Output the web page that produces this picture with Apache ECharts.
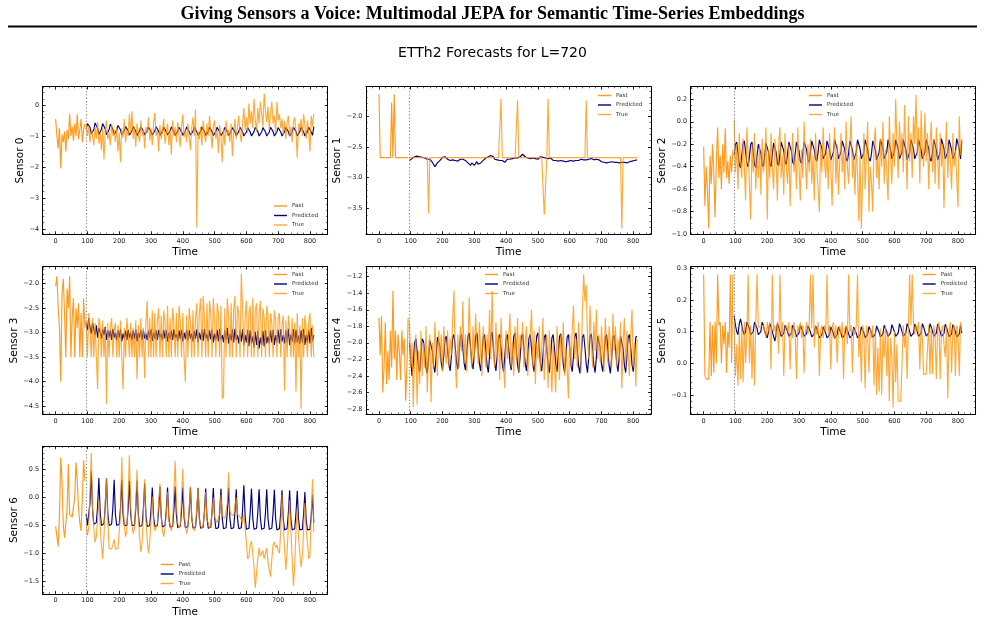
<!DOCTYPE html>
<html><head><meta charset="utf-8">
<script src="https://cdn.jsdelivr.net/npm/echarts@6/dist/echarts.min.js"></script>
<style>html,body{margin:0;padding:0;background:#fff}#c{width:985px;height:621px}</style>
</head><body><div id="c"></div>
<script>
// ================= DATA =================
const STEP = 4;            // sampling step of every series (time units)
const FUTURE_START = 96;   // first forecast time index
const X_TICKS = [0,100,200,300,400,500,600,700,800];
const SENSOR_NAMES = ['Sensor 0','Sensor 1','Sensor 2','Sensor 3','Sensor 4','Sensor 5','Sensor 6'];

const s0YTicks = [-4,-3,-2,-1,0];
const s1YTicks = [-3.5,-3.0,-2.5,-2.0];
const s2YTicks = [-1.0,-0.8,-0.6,-0.4,-0.2,0.0,0.2];
const s3YTicks = [-4.5,-4.0,-3.5,-3.0,-2.5,-2.0];
const s4YTicks = [-2.8,-2.6,-2.4,-2.2,-2.0,-1.8,-1.6,-1.4,-1.2];
const s5YTicks = [-0.1,0.0,0.1,0.2,0.3];
const s6YTicks = [-1.5,-1.0,-0.5,0.0,0.5];

const s0Past = [-0.45,-1.0,-1.4,-0.75,-2.05,-0.95,-1.2,-0.85,-1.5,-0.8,-1.1,-0.28,-1.0,-0.7,-1.15,-0.6,-1.0,-0.3,-1.1,-0.8,-0.45,-1.2,-0.8,-0.6];
const s0Pred = [
-0.78,-0.6,-0.55,-0.72,-0.93,-0.95, -0.8,-0.58,-0.55,-0.75,-0.95,-0.92, -0.78,-0.6,-0.58,-0.78,-0.96,-0.94,
-0.8,-0.62,-0.6,-0.78,-0.95,-0.93, -0.82,-0.66,-0.65,-0.8,-0.97,-0.95, -0.83,-0.7,-0.7,-0.83,-0.97,-0.95,
-0.84,-0.7,-0.72,-0.85,-0.98,-0.95, -0.83,-0.7,-0.7,-0.84,-0.97,-0.94, -0.84,-0.72,-0.72,-0.85,-0.97,-0.95,
-0.83,-0.7,-0.71,-0.85,-0.98,-0.96, -0.85,-0.72,-0.72,-0.86,-0.97,-0.95, -0.84,-0.71,-0.72,-0.85,-0.98,-0.96,
-0.85,-0.72,-0.73,-0.86,-0.98,-0.96, -0.84,-0.71,-0.72,-0.86,-0.97,-0.95, -0.85,-0.72,-0.72,-0.86,-0.98,-0.96,
-0.85,-0.71,-0.71,-0.85,-0.98,-0.96, -0.86,-0.72,-0.72,-0.86,-0.99,-0.97, -0.85,-0.72,-0.73,-0.87,-0.99,-0.96,
-0.86,-0.72,-0.72,-0.86,-0.98,-0.97, -0.86,-0.73,-0.73,-0.87,-0.99,-0.97, -0.86,-0.72,-0.72,-0.87,-1.0,-0.97,
-0.87,-0.73,-0.72,-0.87,-1.0,-0.98, -0.86,-0.72,-0.71,-0.86,-1.0,-0.98, -0.87,-0.73,-0.72,-0.87,-1.0,-0.98,
-0.87,-0.72,-0.71,-0.86,-1.0,-0.98, -0.87,-0.73,-0.72,-0.87,-1.0,-0.98, -0.86,-0.72,-0.71,-0.86,-1.0,-0.97,
-0.87,-0.72,-0.71,-0.86,-1.0,-0.98, -0.86,-0.72,-0.72,-0.87,-1.0,-0.97, -0.86,-0.72,-0.72,-0.87,-0.98,-0.7];
const s0True = [
-0.6,-1.0,-0.7,-1.2,-0.8,-0.95, -1.3,-0.7,-1.1,-0.55,-1.25,-0.9, -1.45,-0.75,-1.75,-0.85,-0.5,-1.1,
-0.9,-1.3,-0.6,-1.0,-0.8,-1.2, -0.7,-1.5,-0.9,-1.85,-0.75,-1.05, -0.45,-1.2,-0.8,-1.0,-0.3,-0.9,
-0.2,-1.1,-0.7,-1.35,-0.6,-0.95, -1.2,-0.5,-1.0,-0.8,-1.4,-0.7, -0.9,-0.4,-1.15,-0.75,-1.3,-0.6,
-0.25,-1.0,-0.8,-1.5,-0.65,-1.1, -0.85,-0.45,-1.25,-0.9,-0.6,-1.3, -0.8,-1.6,-0.5,-1.0,-0.7,-1.2,
-0.55,-0.95,-1.35,-0.7,-0.3,-1.05, -0.8,-1.2,-0.6,-1.0,-1.45,-0.75, -0.4,-1.0,-0.15,-3.95,-0.85,-1.1,
-0.7,-1.3,-0.5,-0.95,-1.2,-0.6, -1.0,-0.35,-0.9,-1.4,-0.7,-0.5, -1.1,-0.8,-1.55,-0.65,-1.0,-1.85,
-0.75,-1.3,-0.5,-1.0,-0.8,-1.2, -0.6,-1.65,-0.9,-0.45,-1.1,-0.7, -0.35,-0.9,-1.2,-0.6,-0.1,-0.8,
-0.4,-0.9,0.05,-0.6,-0.2,-0.75, 0.2,-0.5,-0.85,-0.1,-0.6,0.1, -0.3,-0.7,0.37,-0.2,-0.55,-0.05,
-0.8,-0.25,0.1,-0.6,-0.35,-0.9, 0.1,-0.5,-0.3,-0.75,-0.45,-0.95, -0.5,-1.1,-0.6,-0.35,-1.0,-0.7,
-1.2,-0.55,-0.4,-0.9,-1.7,-0.6, -0.8,-0.45,-1.0,-0.3,-0.65,-1.1, -0.5,-0.9,-1.5,-0.35,-0.7,-0.3];

const s1Past = [-1.65,-2.675,-2.675,-2.675,-2.675,-2.675,-2.675,-2.675,-2.675,-2.675,-1.78,-2.675,-1.65,-2.675,-2.675,-2.675,-2.675,-2.675,-2.675,-2.675,-2.675,-2.675,-2.675,-2.675];
const s1Pred = [
-2.72,-2.71,-2.69,-2.68,-2.66,-2.67, -2.65,-2.68,-2.66,-2.69,-2.67,-2.65, -2.68,-2.66,-2.7,-2.68,-2.7,-2.72,
-2.75,-2.78,-2.82,-2.8,-2.76,-2.74, -2.72,-2.7,-2.67,-2.65,-2.66,-2.68, -2.7,-2.69,-2.72,-2.7,-2.71,-2.69,
-2.72,-2.7,-2.73,-2.71,-2.7,-2.72, -2.7,-2.73,-2.72,-2.74,-2.76,-2.78, -2.8,-2.76,-2.79,-2.8,-2.77,-2.74,
-2.78,-2.8,-2.76,-2.74,-2.72,-2.7, -2.68,-2.7,-2.66,-2.65,-2.64,-2.62, -2.66,-2.7,-2.72,-2.71,-2.73,-2.72,
-2.74,-2.72,-2.73,-2.75,-2.72,-2.7, -2.72,-2.7,-2.71,-2.69,-2.7,-2.68, -2.7,-2.68,-2.69,-2.66,-2.64,-2.62,
-2.63,-2.66,-2.65,-2.68,-2.67,-2.69, -2.67,-2.68,-2.66,-2.69,-2.68,-2.7, -2.68,-2.66,-2.69,-2.67,-2.7,-2.68,
-2.7,-2.69,-2.71,-2.68,-2.7,-2.72, -2.7,-2.72,-2.71,-2.73,-2.7,-2.72, -2.71,-2.73,-2.72,-2.74,-2.72,-2.73,
-2.71,-2.72,-2.7,-2.73,-2.71,-2.72, -2.7,-2.72,-2.71,-2.7,-2.72,-2.71, -2.73,-2.71,-2.72,-2.7,-2.71,-2.69,
-2.7,-2.71,-2.69,-2.7,-2.72,-2.71, -2.73,-2.74,-2.72,-2.75,-2.74,-2.76, -2.74,-2.75,-2.77,-2.74,-2.76,-2.75,
-2.73,-2.75,-2.74,-2.76,-2.74,-2.75, -2.77,-2.75,-2.74,-2.76,-2.73,-2.74, -2.75,-2.73,-2.74,-2.72,-2.73,-2.71];
const s1True = [
-2.675,-2.675,-2.675,-2.675,-2.675,-2.675, -2.675,-2.675,-2.675,-2.675,-2.675,-2.675, -2.675,-2.675,-2.675,-3.58,-2.675,-2.675,
-2.675,-2.675,-2.675,-2.675,-2.675,-2.675, -2.675,-2.675,-2.675,-2.675,-2.675,-2.675, -2.675,-2.675,-2.675,-2.675,-2.675,-2.675,
-2.675,-2.675,-2.675,-2.675,-2.675,-2.675, -2.675,-2.675,-2.675,-2.675,-2.675,-2.675, -2.675,-2.675,-2.675,-2.675,-2.675,-2.675,
-2.675,-2.675,-2.675,-2.675,-2.675,-2.675, -2.675,-2.675,-2.675,-2.675,-2.675,-2.675, -2.675,-2.675,-2.675,-2.675,-2.675,-2.675,
-1.72,-2.675,-2.675,-2.675,-2.675,-2.675, -2.675,-2.675,-2.675,-2.675,-2.675,-2.675, -2.675,-1.75,-2.675,-2.675,-2.675,-2.675,
-2.675,-2.675,-2.675,-2.675,-2.675,-2.675, -2.675,-2.675,-2.675,-2.675,-2.675,-2.675, -2.675,-2.675,-2.675,-2.675,-3.6,-3.57,
-2.675,-1.72,-2.675,-2.675,-2.675,-2.675, -2.675,-2.675,-2.675,-2.675,-2.675,-2.675, -2.675,-2.675,-2.675,-2.675,-2.675,-2.675,
-2.675,-2.675,-2.675,-2.675,-2.675,-2.675, -2.675,-2.675,-2.675,-2.675,-2.675,-2.675, -2.675,-1.75,-2.675,-2.675,-2.675,-2.675,
-2.675,-2.675,-2.675,-2.675,-2.675,-2.675, -2.675,-2.675,-2.675,-2.675,-2.675,-2.675, -2.675,-2.675,-2.675,-2.675,-2.675,-2.675,
-2.675,-2.675,-2.675,-2.675,-2.675,-3.82, -2.675,-2.675,-2.675,-2.675,-2.675,-2.675, -2.675,-2.675,-2.675,-2.675,-2.675,-2.675];

const s2Past = [-0.22,-0.75,-0.4,-0.6,-0.95,-0.3,-0.55,-0.2,-0.45,-0.85,-0.35,-0.05,-0.5,-0.3,-0.6,-0.2,-0.45,-0.06,-0.5,-0.35,-0.55,-0.3,-0.45,-0.25];
const s2Pred = [
-0.3,-0.2,-0.18,-0.28,-0.38,-0.41, -0.3,-0.19,-0.17,-0.27,-0.37,-0.4, -0.31,-0.2,-0.18,-0.28,-0.38,-0.41,
-0.3,-0.2,-0.19,-0.28,-0.38,-0.4, -0.3,-0.19,-0.18,-0.27,-0.37,-0.4, -0.29,-0.19,-0.18,-0.27,-0.37,-0.39,
-0.29,-0.18,-0.17,-0.26,-0.36,-0.38, -0.28,-0.18,-0.17,-0.26,-0.36,-0.38, -0.28,-0.18,-0.17,-0.26,-0.35,-0.37,
-0.28,-0.18,-0.17,-0.25,-0.34,-0.36, -0.27,-0.17,-0.16,-0.25,-0.33,-0.35, -0.27,-0.16,-0.16,-0.24,-0.33,-0.34,
-0.28,-0.17,-0.16,-0.25,-0.34,-0.35, -0.27,-0.16,-0.15,-0.24,-0.33,-0.34, -0.27,-0.17,-0.16,-0.25,-0.33,-0.35,
-0.28,-0.17,-0.16,-0.25,-0.34,-0.35, -0.27,-0.16,-0.15,-0.24,-0.33,-0.34, -0.27,-0.16,-0.16,-0.25,-0.33,-0.35,
-0.28,-0.17,-0.16,-0.25,-0.34,-0.35, -0.27,-0.16,-0.15,-0.24,-0.33,-0.34, -0.27,-0.16,-0.16,-0.25,-0.33,-0.34,
-0.27,-0.16,-0.15,-0.24,-0.33,-0.34, -0.27,-0.16,-0.16,-0.25,-0.34,-0.35, -0.27,-0.16,-0.15,-0.24,-0.33,-0.34,
-0.27,-0.16,-0.16,-0.25,-0.33,-0.34, -0.27,-0.16,-0.15,-0.24,-0.33,-0.35, -0.27,-0.16,-0.16,-0.25,-0.34,-0.34,
-0.27,-0.15,-0.15,-0.24,-0.33,-0.34, -0.27,-0.16,-0.16,-0.25,-0.33,-0.34, -0.27,-0.15,-0.15,-0.24,-0.33,-0.17];
const s2True = [
0.02,-0.45,-0.2,-0.6,-0.1,-0.35, -0.5,-0.15,-0.4,-0.7,-0.05,-0.3, -0.55,-0.87,-0.2,-0.45,-0.1,-0.6,
-0.3,-0.5,-0.2,-0.65,-0.15,-0.45, -0.35,-0.05,-0.87,-0.25,-0.5,-0.1, -0.4,-0.6,-0.15,-0.35,-0.7,-0.2,
-0.05,-0.5,-0.3,-0.65,-0.1,-0.4, -0.55,-0.2,-0.75,-0.35,-0.1,-0.45, -0.3,-0.6,-0.05,-0.4,-0.7,-0.25,
-0.5,0.0,-0.35,-0.6,-0.2,-0.45, -0.15,-0.55,-0.3,-0.7,-0.1,-0.4, -0.6,-0.8,-0.2,-0.45,-0.05,-0.35,
-0.5,-0.25,-0.6,-0.1,-0.4,-0.75, -0.3,-0.05,-0.55,-0.2,-0.65,-0.35, -0.1,-0.45,-0.25,-0.6,0.0,-0.4,
-0.55,-0.2,0.05,-0.5,-0.3,-0.65, -0.2,-0.45,-0.88,-0.3,-0.95,-0.5, -0.1,-0.6,-0.3,0.0,-0.8,-0.4,
-0.55,-0.8,-0.2,-0.05,-0.5,-0.3, -0.6,-0.15,-0.4,0.0,-0.55,-0.25, -0.45,-0.7,0.05,-0.3,-0.55,-0.1,
-0.4,0.2,-0.2,-0.5,0.0,-0.3, -0.1,-0.45,0.15,-0.25,-0.6,0.05, -0.35,-0.1,-0.5,0.05,-0.2,0.24,
-0.3,-0.05,-0.55,0.1,-0.25,-0.4, 0.08,-0.35,-0.1,-0.6,-0.2,0.0, -0.45,-0.15,-0.55,-0.05,-0.3,-0.6,
-0.1,-0.4,-0.2,-0.77,-0.25,0.0, -0.5,-0.2,-0.35,-0.6,-0.1,-0.4, -0.25,-0.5,-0.76,0.05,-0.3,-0.15];

const s3Past = [-2.05,-1.85,-2.5,-2.9,-4.0,-2.2,-1.9,-2.6,-3.5,-2.1,-2.5,-1.85,-3.5,-2.7,-2.3,-3.5,-2.5,-2.9,-2.4,-3.5,-2.6,-3.5,-2.3,-2.9];
const s3Pred = [
-2.8,-2.95,-2.7,-2.88,-3.02,-2.8, -2.78,-3.05,-2.85,-3.1,-2.9,-3.0, -3.12,-2.92,-3.05,-2.88,-3.15,-2.95,
-3.1,-2.95,-3.15,-2.92,-3.1,-3.0, -3.15,-2.95,-3.1,-2.93,-3.18,-3.02, -3.12,-2.96,-3.15,-2.94,-3.1,-3.0,
-3.16,-2.95,-3.12,-2.93,-3.18,-3.0, -3.1,-2.94,-3.15,-2.95,-3.12,-3.02, -3.15,-2.96,-3.1,-2.93,-3.17,-3.0,
-3.12,-2.95,-3.15,-2.94,-3.1,-3.02, -3.16,-2.94,-3.12,-2.95,-3.18,-3.0, -3.12,-2.96,-3.15,-2.93,-3.1,-3.03,
-3.17,-2.95,-3.12,-2.94,-3.18,-3.0, -3.13,-2.94,-3.16,-2.95,-3.12,-3.02, -3.18,-2.96,-3.12,-2.93,-3.2,-3.0,
-3.14,-2.93,-3.17,-2.92,-3.12,-3.03, -3.18,-2.95,-3.14,-2.93,-3.2,-3.02, -3.15,-2.94,-3.18,-2.92,-3.14,-3.05,
-3.2,-2.95,-3.15,-2.9,-3.22,-3.03, -3.16,-2.93,-3.2,-2.92,-3.15,-3.05, -3.22,-2.95,-3.18,-2.93,-3.25,-3.05,
-3.2,-2.94,-3.27,-2.95,-3.22,-3.08, -3.3,-2.98,-3.25,-2.96,-3.32,-3.1, -3.25,-2.96,-3.28,-2.95,-3.22,-3.08,
-3.22,-2.95,-3.2,-2.94,-3.25,-3.05, -3.2,-2.94,-3.22,-2.93,-3.18,-3.05, -3.22,-2.95,-3.2,-2.92,-3.25,-3.04,
-3.18,-2.93,-3.22,-2.94,-3.2,-3.06, -3.23,-2.95,-3.2,-2.92,-3.25,-3.05, -3.2,-2.94,-3.22,-2.9,-3.18,-3.05];
const s3True = [
-2.75,-3.5,-2.6,-2.9,-3.5,-2.7, -3.5,-2.8,-3.5,-4.15,-2.7,-2.85, -3.5,-2.75,-3.5,-2.9,-4.45,-2.8,
-3.5,-2.9,-2.7,-3.5,-2.95,-2.8, -3.5,-2.85,-3.5,-2.75,-3.5,-4.15, -2.9,-3.5,-2.7,-3.0,-3.5,-2.8,
-3.5,-2.9,-3.5,-2.75,-3.95,-2.85, -3.5,-2.7,-3.5,-2.9,-3.93,-2.8, -2.35,-3.5,-2.7,-3.5,-2.55,-3.5,
-2.6,-3.5,-2.75,-2.5,-3.5,-2.65, -3.5,-2.55,-2.8,-3.5,-2.45,-3.5, -2.7,-3.5,-2.5,-2.8,-3.5,-2.6,
-3.5,-2.45,-2.75,-3.5,-2.6,-3.5, -4.0,-2.65,-3.5,-2.5,-2.8,-3.5, -2.55,-3.5,-2.7,-2.4,-3.5,-2.6,
-2.3,-3.5,-2.25,-2.7,-3.5,-2.4, -3.5,-2.35,-2.6,-3.5,-2.3,-2.75, -3.5,-2.4,-2.6,-3.5,-2.45,-4.35,
-4.3,-2.5,-3.5,-2.3,-2.7,-3.5, -2.4,-3.5,-2.55,-2.25,-3.5,-2.45, -2.6,-3.5,-1.8,-2.5,-3.5,-2.7,
-2.35,-3.5,-2.6,-2.45,-3.5,-2.3, -3.5,-2.55,-2.4,-3.5,-2.6,-2.35, -3.5,-2.5,-2.7,-3.5,-2.45,-2.65,
-3.5,-2.6,-2.8,-3.5,-2.55,-2.75, -3.5,-2.7,-2.6,-3.5,-2.85,-2.65, -4.18,-2.75,-3.5,-2.65,-2.9,-3.5,
-2.7,-3.5,-2.8,-4.2,-2.6,-3.5, -2.85,-4.55,-2.7,-3.5,-2.65,-2.9, -3.5,-2.75,-2.6,-3.5,-2.85,-3.5];

const s4Past = [-1.7,-2.15,-1.68,-2.6,-2.3,-1.75,-2.5,-2.1,-2.45,-1.85,-2.3,-1.37,-2.2,-1.85,-2.45,-1.9,-2.1,-2.45,-1.85,-2.15,-1.95,-2.7,-2.3,-1.7];
const s4Pred = [
-2.0,-2.2,-2.4,-2.25,-2.0,-1.95, -2.1,-2.28,-2.35,-2.15,-1.95,-1.98, -2.12,-2.3,-2.37,-2.18,-1.97,-1.95,
-2.1,-2.28,-2.36,-2.16,-1.93,-1.92, -2.05,-2.25,-2.33,-2.15,-1.95,-1.92, -2.08,-2.26,-2.34,-2.16,-1.94,-1.9,
-2.05,-2.24,-2.32,-2.14,-1.93,-1.9, -2.07,-2.25,-2.33,-2.15,-1.92,-1.88, -2.05,-2.24,-2.32,-2.14,-1.92,-1.88,
-2.06,-2.25,-2.34,-2.15,-1.93,-1.9, -2.08,-2.27,-2.36,-2.16,-1.92,-1.87, -2.06,-2.25,-2.34,-2.15,-1.93,-1.9,
-2.07,-2.26,-2.35,-2.16,-1.94,-1.9, -2.05,-2.24,-2.33,-2.14,-1.92,-1.88, -2.08,-2.27,-2.36,-2.17,-1.93,-1.89,
-2.06,-2.25,-2.34,-2.15,-1.94,-1.9, -2.07,-2.26,-2.35,-2.16,-1.92,-1.88, -2.06,-2.25,-2.34,-2.15,-1.93,-1.9,
-2.08,-2.27,-2.36,-2.17,-1.94,-1.9, -2.06,-2.25,-2.35,-2.16,-1.92,-1.89, -2.07,-2.27,-2.36,-2.17,-1.93,-1.9,
-2.06,-2.26,-2.35,-2.16,-1.92,-1.88, -2.08,-2.28,-2.37,-2.18,-1.93,-1.9, -2.06,-2.26,-2.36,-2.17,-1.93,-1.89,
-2.07,-2.27,-2.36,-2.17,-1.92,-1.9, -2.06,-2.26,-2.35,-2.16,-1.93,-1.9, -2.08,-2.28,-2.37,-2.18,-1.94,-1.91,
-2.06,-2.26,-2.35,-2.16,-1.92,-1.9, -2.07,-2.27,-2.36,-2.17,-1.93,-1.9, -2.06,-2.26,-2.35,-2.16,-1.93,-1.92];
const s4True = [
-1.75,-2.3,-2.0,-2.78,-2.2,-1.9, -2.75,-2.1,-2.5,-1.85,-2.4,-2.0, -2.3,-1.8,-2.6,-2.1,-1.9,-2.72,
-2.0,-2.3,-1.75,-2.1,-2.4,-1.85, -2.2,-1.9,-2.35,-1.8,-2.1,-2.25, -1.85,-2.3,-1.95,-2.15,-1.7,-1.37,
-2.2,-2.55,-1.9,-2.3,-1.8,-2.1, -1.5,-2.25,-1.9,-2.35,-2.0,-1.45, -2.1,-2.3,-1.8,-2.2,-1.65,-2.0,
-2.25,-1.75,-2.1,-2.4,-1.8,-2.05, -2.3,-1.9,-2.15,-1.6,-2.2,-1.37, -2.1,-2.3,-1.75,-2.2,-1.9,-2.45,
-1.7,-2.1,-2.3,-2.55,-1.85,-2.2, -1.95,-1.65,-2.3,-2.0,-2.4,-1.8, -2.2,-1.7,-2.35,-1.9,-2.1,-1.75,
-2.3,-2.0,-1.8,-2.4,-2.1,-1.9, -1.6,-2.3,-1.85,-2.5,-2.0,-2.2, -1.8,-2.35,-2.05,-1.7,-2.45,-2.1,
-1.9,-2.55,-1.85,-2.2,-2.6,-2.0, -2.3,-2.6,-1.8,-2.1,-2.45,-1.9, -2.2,-1.75,-2.4,-2.05,-2.3,-2.67,
-1.9,-2.3,-1.85,-1.55,-2.2,-1.95, -2.3,-1.75,-2.05,-2.35,-1.6,-1.17, -1.5,-1.3,-1.95,-2.2,-1.55,-2.0,
-2.3,-1.75,-2.1,-1.6,-2.2,-1.9, -2.25,-1.8,-2.1,-2.35,-1.7,-2.05, -2.25,-1.8,-2.0,-2.3,-1.65,-2.1,
-1.8,-2.3,-1.95,-2.2,-1.75,-2.55, -2.0,-1.7,-2.3,-1.85,-2.15,-2.4, -1.9,-1.6,-2.3,-2.0,-2.53,-1.95];

const s5Past = [0.28,-0.04,-0.05,-0.05,-0.05,0.13,-0.04,0.12,-0.03,0.13,0.0,0.28,0.12,0.13,0.0,0.12,0.06,0.13,-0.03,0.1,0.05,0.28,0.0,0.28];
const s5Pred = [
0.15,0.12,0.1,0.09,0.125,0.14, 0.12,0.1,0.09,0.1,0.13,0.125, 0.11,0.09,0.085,0.1,0.13,0.12,
0.11,0.09,0.085,0.1,0.13,0.12, 0.1,0.09,0.08,0.1,0.125,0.115, 0.1,0.085,0.07,0.095,0.125,0.115,
0.1,0.085,0.08,0.095,0.12,0.11, 0.1,0.085,0.08,0.095,0.12,0.11, 0.1,0.084,0.078,0.095,0.12,0.11,
0.1,0.085,0.08,0.094,0.118,0.11, 0.098,0.083,0.077,0.093,0.118,0.108, 0.095,0.08,0.075,0.09,0.115,0.105,
0.095,0.08,0.075,0.09,0.115,0.105, 0.094,0.079,0.074,0.09,0.114,0.104, 0.095,0.08,0.075,0.09,0.115,0.105,
0.094,0.08,0.074,0.089,0.114,0.104, 0.095,0.08,0.075,0.09,0.115,0.105, 0.096,0.081,0.076,0.091,0.116,0.106,
0.097,0.082,0.077,0.092,0.118,0.108, 0.098,0.083,0.078,0.093,0.12,0.11, 0.1,0.085,0.08,0.095,0.122,0.112,
0.1,0.085,0.08,0.095,0.125,0.115, 0.1,0.086,0.08,0.096,0.125,0.115, 0.1,0.085,0.08,0.095,0.124,0.114,
0.1,0.085,0.08,0.095,0.125,0.115, 0.1,0.086,0.08,0.096,0.125,0.114, 0.1,0.085,0.08,0.095,0.124,0.114,
0.1,0.085,0.079,0.094,0.123,0.113, 0.099,0.084,0.078,0.093,0.122,0.112, 0.098,0.083,0.077,0.092,0.12,0.095];
const s5True = [
0.13,-0.04,0.06,-0.07,0.1,-0.05, 0.12,-0.06,0.13,0.0,0.09,0.28, 0.0,0.12,-0.05,0.1,-0.07,0.13,
0.28,0.115,0.115,0.115,0.115,0.12, 0.115,0.08,0.13,0.1,0.13,-0.02, 0.28,0.1,0.12,0.08,0.13,0.03,
0.28,0.09,0.13,-0.04,0.11,0.12, 0.1,0.13,-0.02,0.12,0.08,0.13, 0.09,-0.05,0.12,0.1,0.13,0.08,
0.12,-0.03,0.1,0.13,0.09,0.12, 0.28,0.11,0.28,0.05,0.12,0.09, 0.13,-0.04,0.1,0.12,0.08,0.12,
0.1,0.28,0.09,0.12,-0.02,0.11, 0.13,0.08,0.12,0.0,0.1,0.12, 0.09,0.13,-0.05,0.11,0.12,0.06,
0.28,0.1,0.12,-0.03,0.11,0.09, 0.12,0.28,0.02,0.1,-0.06,0.12, 0.1,-0.08,0.12,0.09,-0.03,0.11,
0.08,0.12,-0.07,0.1,-0.1,0.05, -0.09,0.11,-0.1,0.09,0.02,0.12, -0.04,0.1,-0.12,0.08,0.02,-0.14,
0.1,-0.06,0.06,-0.12,-0.12,-0.12, 0.0,0.12,0.05,0.1,-0.05,0.11, 0.28,0.12,0.28,0.13,0.09,0.12,
0.1,0.13,-0.02,0.12,0.08,-0.035, -0.035,-0.035,-0.035,0.12,-0.035,0.11, -0.035,0.12,0.09,-0.05,0.11,0.13,
-0.05,0.1,0.12,0.06,0.02,0.12, -0.11,0.1,0.13,-0.03,0.11,0.12, -0.04,0.12,0.09,-0.04,0.13,0.1];

const s6Past = [-0.52,-0.7,-0.88,-0.3,0.72,0.3,-0.5,-0.72,-0.7,-0.2,0.6,-0.3,-0.32,-0.35,-0.38,0.0,0.63,0.3,-0.2,-0.45,-0.6,0.0,0.67,0.3];
const s6Pred = [
-0.3,-0.5,-0.48,-0.1,0.47,-0.2, -0.48,-0.5,-0.45,-0.15,0.35,-0.25, -0.5,-0.52,-0.47,-0.15,0.35,-0.28,
-0.5,-0.52,-0.48,-0.18,0.32,-0.3, -0.5,-0.52,-0.48,-0.18,0.32,-0.3, -0.5,-0.53,-0.5,-0.2,0.3,-0.3,
-0.5,-0.53,-0.5,-0.2,0.3,-0.3, -0.52,-0.54,-0.5,-0.2,0.25,-0.32, -0.52,-0.54,-0.5,-0.22,0.18,-0.35,
-0.52,-0.55,-0.5,-0.22,0.2,-0.33, -0.53,-0.55,-0.5,-0.22,0.18,-0.35, -0.53,-0.55,-0.52,-0.22,0.2,-0.33,
-0.54,-0.56,-0.52,-0.24,0.18,-0.35, -0.54,-0.56,-0.52,-0.24,0.18,-0.35, -0.55,-0.57,-0.53,-0.25,0.17,-0.36,
-0.55,-0.57,-0.53,-0.25,0.16,-0.36, -0.55,-0.58,-0.53,-0.25,0.17,-0.36, -0.56,-0.58,-0.54,-0.26,0.16,-0.37,
-0.56,-0.58,-0.54,-0.25,0.17,-0.36, -0.56,-0.58,-0.54,-0.26,0.15,-0.37, -0.56,-0.59,-0.54,-0.22,0.22,-0.34,
-0.57,-0.59,-0.55,-0.26,0.16,-0.37, -0.57,-0.59,-0.55,-0.26,0.15,-0.37, -0.57,-0.6,-0.55,-0.27,0.15,-0.38,
-0.57,-0.6,-0.55,-0.27,0.14,-0.38, -0.58,-0.6,-0.56,-0.27,0.13,-0.38, -0.58,-0.6,-0.56,-0.28,0.13,-0.39,
-0.58,-0.6,-0.56,-0.28,0.12,-0.39, -0.58,-0.61,-0.57,-0.3,0.1,-0.4, -0.58,-0.61,-0.57,-0.32,0.05,-0.45];
const s6True = [
-0.45,-0.68,-0.55,0.1,0.8,-0.2, -0.55,-0.8,-0.7,-0.4,-0.05,-0.5, -0.85,-1.1,-0.7,-0.1,0.35,-0.4,
-0.92,-0.92,-0.92,-0.85,-0.75,-0.92, -0.92,-0.92,-0.9,-0.3,0.72,-0.1, -0.5,-0.7,-0.6,0.0,0.76,-0.2,
-0.5,-0.65,-0.55,-0.1,0.5,-0.3, -0.7,-0.98,-0.8,-0.3,0.33,-0.4, -0.75,-1.0,-0.8,-0.4,0.02,-0.45,
-0.6,-0.55,-0.45,-0.1,0.25,-0.35, -0.6,-0.7,-0.55,-0.3,0.1,-0.4, -0.5,-0.6,-0.45,0.1,0.66,-0.15,
-0.45,-0.55,-0.5,0.0,0.52,-0.25, -0.5,-0.65,-0.55,-0.2,0.2,-0.35, -0.5,-0.6,-0.5,-0.2,0.18,-0.4,
-0.5,-0.55,-0.5,-0.3,0.1,-0.4, -0.45,-0.55,-0.5,-0.25,0.0,-0.35, -0.4,-0.45,-0.42,-0.3,0.05,-0.32,
-0.35,-0.38,-0.35,-0.1,0.45,-0.25, -0.3,-0.3,-0.32,-0.32,0.0,-0.3, -0.32,-0.35,-0.4,-0.45,-0.3,-0.55,
-0.8,-1.1,-1.05,-0.85,-0.78,-1.0, -1.25,-1.62,-1.35,-1.1,-0.9,-1.05, -1.0,-0.95,-1.1,-1.0,-0.9,-1.15,
-1.3,-1.42,-1.1,-0.85,-0.8,-0.9, -0.85,-0.95,-1.0,-0.6,0.05,-0.5, -0.9,-1.3,-1.0,-0.5,-0.05,-0.6,
-1.1,-1.58,-1.2,-0.6,-0.2,-0.7, -1.0,-1.25,-1.05,-0.55,-0.1,-0.6, -0.8,-1.1,-1.05,-0.3,0.33,-0.62];

const PAST = [s0Past,s1Past,s2Past,s3Past,s4Past,s5Past,s6Past];
const PRED = [s0Pred,s1Pred,s2Pred,s3Pred,s4Pred,s5Pred,s6Pred];
const TRUE = [s0True,s1True,s2True,s3True,s4True,s5True,s6True];
const YTICKS = [s0YTicks,s1YTicks,s2YTicks,s3YTicks,s4YTicks,s5YTicks,s6YTicks];

// ================= AXIS SETTINGS =================
const X_RANGE = [-40.75, 855.75];
const X_MINOR = 20;
const Y_RANGE = [[-4.17,0.59],[-3.914,-1.526],[-1.0,0.312],[-4.663,-1.654],[-2.864,-1.079],[-0.161,0.305],[-1.727,0.92]];
const Y_MINOR = [0.2,0.1,0.05,0.1,0.05,0.02,0.1];
const Y_DEC = [0,1,1,1,1,1,1];

// ================= LAYOUT / STYLE =================
const FONT = 'DejaVu Sans';
const COL_LEFT = [42.7, 366, 690.7];
const ROW_TOP = [86.7, 266.7, 446.3];
const GRID_W = 285, GRID_H = 147.5;
const LEGEND_POS = [[274,202],[598,91.5],[809,91.5],[274,270.5],[485,270.5],[922.7,270.5],[160.7,560.5]];
const NAME_GAP = [16.5,22.5,22,22.5,22.5,22.5,22.5];
const C_PAST = 'rgba(255,140,0,0.88)';
const C_PRED = '#000080';
const C_TRUE = 'rgba(255,145,0,0.78)';
const LINE_W = 1.15;
const TICK_FONT = 6.5, LEGEND_FONT = 5.6;

function tickFormatter(list, dec){
  return function(v){
    for (const t of list){
      if (Math.abs(v - t) < 1e-7){
        const s = (Math.abs(t) < 1e-12 ? 0 : t).toFixed(dec);
        return s.replace('-', '\u2212');
      }
    }
    return '';
  };
}
function major(list){ return Math.abs(list[1]-list[0]); }

const grids = [], xAxes = [], yAxes = [], series = [], legends = [];
const tickStyle = {color:'#000', width:0.8};
const minorTick = {show:true, inside:true, length:1.6, lineStyle:{color:'#000', width:0.6}};
for (let i = 0; i < 7; i++){
  const r = Math.floor(i/3), c = i%3;
  grids.push({left:COL_LEFT[c], top:ROW_TOP[r], width:GRID_W, height:GRID_H, outerBoundsMode:'none', containLabel:false});
  const xb = {type:'value', gridIndex:i, min:X_RANGE[0], max:X_RANGE[1], splitLine:{show:false}, axisPointer:{show:false}};
  const xm = major(X_TICKS);
  xAxes.push(
    Object.assign({}, xb, {position:'bottom', minInterval:xm, maxInterval:xm,
      axisLine:{show:true, onZero:false, lineStyle:{color:'#000', width:1}},
      axisTick:{show:true, inside:true, length:3, lineStyle:tickStyle},
      axisLabel:{show:true, margin:3.5, fontSize:TICK_FONT, color:'#222', fontFamily:FONT, formatter:tickFormatter(X_TICKS,0)},
      name:'Time', nameLocation:'middle', nameGap:12.5, nameTextStyle:{fontSize:10.5, color:'#000', fontFamily:FONT}}),
    Object.assign({}, xb, {position:'bottom', minInterval:X_MINOR, maxInterval:X_MINOR,
      axisLine:{show:false, onZero:false}, axisTick:minorTick, axisLabel:{show:false}}),
    Object.assign({}, xb, {position:'top', minInterval:xm, maxInterval:xm,
      axisLine:{show:true, onZero:false, lineStyle:{color:'#000', width:1}}, axisTick:{show:true, inside:true, length:3, lineStyle:tickStyle}, axisLabel:{show:false}}),
    Object.assign({}, xb, {position:'top', minInterval:X_MINOR, maxInterval:X_MINOR,
      axisLine:{show:false, onZero:false}, axisTick:minorTick, axisLabel:{show:false}})
  );
  const yb = {type:'value', gridIndex:i, min:Y_RANGE[i][0], max:Y_RANGE[i][1], splitLine:{show:false}, axisPointer:{show:false}, scale:true};
  const ym = major(YTICKS[i]);
  yAxes.push(
    Object.assign({}, yb, {position:'left', minInterval:ym, maxInterval:ym,
      axisLine:{show:true, onZero:false, lineStyle:{color:'#000', width:1}},
      axisTick:{show:true, inside:true, length:3, lineStyle:tickStyle},
      axisLabel:{show:true, margin:3.5, fontSize:TICK_FONT, color:'#222', fontFamily:FONT, formatter:tickFormatter(YTICKS[i],Y_DEC[i])},
      name:SENSOR_NAMES[i], nameLocation:'middle', nameGap:NAME_GAP[i], nameTextStyle:{fontSize:10.5, color:'#000', fontFamily:FONT}}),
    Object.assign({}, yb, {position:'left', minInterval:Y_MINOR[i], maxInterval:Y_MINOR[i],
      axisLine:{show:false, onZero:false}, axisTick:minorTick, axisLabel:{show:false}}),
    Object.assign({}, yb, {position:'right', minInterval:ym, maxInterval:ym,
      axisLine:{show:true, onZero:false, lineStyle:{color:'#000', width:1}}, axisTick:{show:true, inside:true, length:3, lineStyle:tickStyle}, axisLabel:{show:false}}),
    Object.assign({}, yb, {position:'right', minInterval:Y_MINOR[i], maxInterval:Y_MINOR[i],
      axisLine:{show:false, onZero:false}, axisTick:minorTick, axisLabel:{show:false}})
  );
  const xi = 4*i, yi = 4*i;
  const line = (name, data, color, z, extra) => Object.assign({
    type:'line', name, data, xAxisIndex:xi, yAxisIndex:yi, showSymbol:false, symbol:'none',
    color, itemStyle:{color}, lineStyle:{color, width:LINE_W}, z, silent:true, animation:false
  }, extra||{});
  series.push(
    line('Past', PAST[i].map((v,k)=>[k*STEP, v]), C_PAST, 2, {
      markLine:{silent:true, symbol:['none','none'], label:{show:false}, animation:false,
        lineStyle:{color:'#8a8a8a', width:1.1, type:[1.3,2]}, data:[{xAxis:FUTURE_START}]}}),
    line('Predicted', PRED[i].map((v,k)=>[FUTURE_START + k*STEP, v]), C_PRED, 3),
    line('True', TRUE[i].map((v,k)=>[FUTURE_START + k*STEP, v]), C_TRUE, 4)
  );
  legends.push({
    data:['Past','Predicted','True'], orient:'vertical', left:LEGEND_POS[i][0], top:LEGEND_POS[i][1],
    icon:'rect', itemWidth:13, itemHeight:1.4, itemGap:1.5, padding:0, selectedMode:false,
    textStyle:{fontSize:LEGEND_FONT, lineHeight:8, color:'#333', fontFamily:FONT}
  });
}

const chart = echarts.init(document.getElementById('c'), null, {renderer:'canvas'});
chart.setOption({
  backgroundColor:'#fff',
  animation:false,
  title:[
    {text:'Giving Sensors a Voice: Multimodal JEPA for Semantic Time-Series Embeddings', left:'center', top:5, padding:0,
     textStyle:{fontFamily:'Liberation Serif', fontWeight:'bold', fontSize:18, color:'#000'}},
    {text:'ETTh2 Forecasts for L=720', left:'center', top:46, padding:0,
     textStyle:{fontFamily:FONT, fontWeight:'normal', fontSize:14, color:'#000'}}
  ],
  graphic:[{type:'line', shape:{x1:8, y1:26.5, x2:977, y2:26.5}, style:{stroke:'#000', lineWidth:2}, silent:true}],
  grid:grids, xAxis:xAxes, yAxis:yAxes, legend:legends, series:series
});
</script></body></html>
